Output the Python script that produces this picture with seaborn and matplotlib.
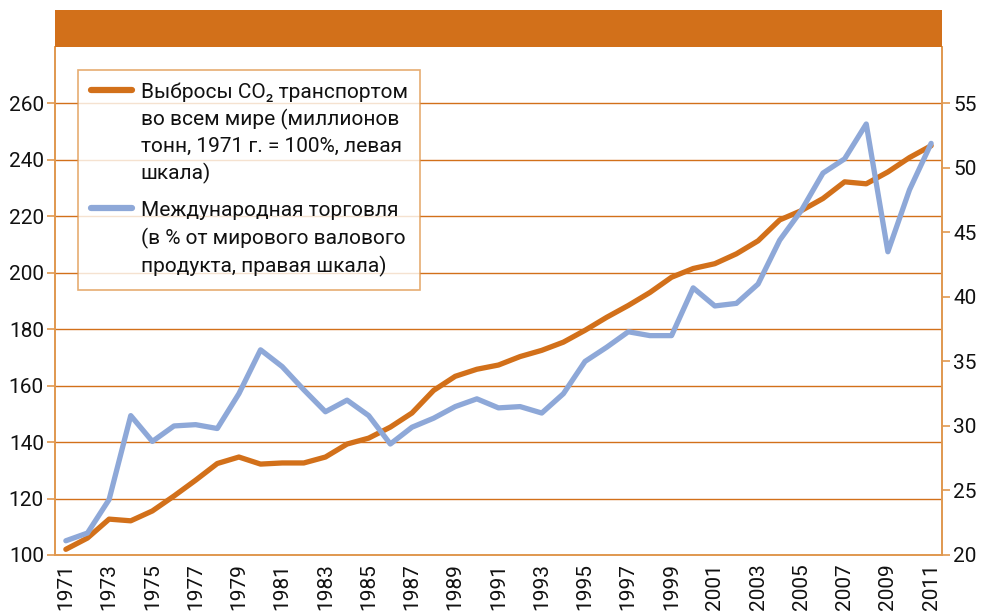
import numpy as np
import pandas as pd
import matplotlib
matplotlib.use("Agg")
import matplotlib.pyplot as plt
from matplotlib.patches import Rectangle
from matplotlib.lines import Line2D
import seaborn as sns

# Data
years = list(range(1971, 2012))
co2_transport = [102.0, 106.0, 112.7, 112.1, 115.6, 120.9, 126.5, 132.4, 134.7, 132.2,
                 132.6, 132.6, 134.7, 139.3, 141.4, 145.3, 150.3, 158.3, 163.3, 165.8,
                 167.3, 170.3, 172.5, 175.4, 179.6, 184.2, 188.4, 193.0, 198.4, 201.5,
                 203.2, 206.7, 211.3, 218.7, 222.0, 226.3, 232.2, 231.5, 235.7, 240.8,
                 245.0]
world_trade = [21.1, 21.7, 24.3, 30.8, 28.8, 30.0, 30.1, 29.8, 32.5, 35.9,
               34.6, 32.8, 31.1, 32.0, 30.8, 28.6, 29.9, 30.6, 31.5, 32.1,
               31.4, 31.5, 31.0, 32.5, 35.0, 36.1, 37.3, 37.0, 37.0, 40.7,
               39.3, 39.5, 41.0, 44.4, 46.7, 49.6, 50.7, 53.4, 43.5, 48.3,
               51.9]
left_ticks = [100, 120, 140, 160, 180, 200, 220, 240, 260]
right_ticks = [20, 25, 30, 35, 40, 45, 50, 55]
label_co2 = "Выбросы CO₂ транспортом\nво всем мире (миллионов\nтонн, 1971 г. = 100%, левая\nшкала)"
label_trade = "Международная торговля\n(в % от мирового валового\nпродукта, правая шкала)"

df = pd.DataFrame({"year": years, "co2": co2_transport, "trade": world_trade})

sns.set_style("white")
plt.rcParams['font.family'] = ['Roboto', 'DejaVu Sans']

ORANGE = "#D2701A"
BLUE = "#8EA8D8"
SPINE = "#E0984F"

fig = plt.figure(figsize=(9.81, 6.11), dpi=100)
ax = fig.add_axes([0.0561, 0.0917, 0.9041, 0.8315])
ax2 = ax.twinx()

sns.lineplot(data=df, x="year", y="co2", ax=ax, color=ORANGE, linewidth=3.8)
sns.lineplot(data=df, x="year", y="trade", ax=ax2, color=BLUE, linewidth=3.8)

ax.set_xlim(1970.5, 2011.5)
ax.set_ylim(100, 280)
ax2.set_ylim(20, 20 + 180 * 35 / 160)

ax.set_yticks(left_ticks)
ax2.set_yticks(right_ticks)
ax.set_xticks(years[::2])
ax.set_xticklabels([str(y) for y in years[::2]], rotation=90)
ax.set_xticks(np.arange(1970.5, 2012, 1), minor=True)

ax.grid(axis="y", color=ORANGE, linewidth=1.0)
ax.set_axisbelow(True)

for a in (ax, ax2):
    a.set_xlabel("")
    a.set_ylabel("")
    a.spines["top"].set_visible(False)
    for s in ("left", "right", "bottom"):
        a.spines[s].set_color(SPINE)
        a.spines[s].set_linewidth(1.2)

ax.tick_params(axis="x", which="major", length=0, pad=6, labelsize=15, labelcolor="#111111")
ax.tick_params(axis="x", which="minor", length=6, width=1.2, color=SPINE, direction="out")
ax.tick_params(axis="y", length=6, width=1.2, color=SPINE, direction="out", labelsize=15,
               pad=2, labelcolor="#111111")
ax2.tick_params(axis="y", length=6, width=1.2, color=SPINE, direction="out", labelsize=15,
                pad=2, labelcolor="#111111")

# orange header band above the plot area
fig.patches.append(Rectangle((0.0561, 0.923), 0.9041, 0.0606, transform=fig.transFigure,
                             facecolor=ORANGE, edgecolor="none"))

handles = [Line2D([], [], color=ORANGE, linewidth=4.5),
           Line2D([], [], color=BLUE, linewidth=4.5)]
leg = ax2.legend(handles, [label_co2, label_trade], loc="upper left",
                 bbox_to_anchor=(0.026, 0.955), borderaxespad=0, fontsize=15,
                 frameon=True, fancybox=False, handlelength=2.0, handletextpad=0.4,
                 labelspacing=0.8, borderpad=0.6)
leg.get_frame().set_edgecolor(SPINE)
leg.get_frame().set_linewidth(1.2)
for t in leg.get_texts():
    t.set_linespacing(1.45)
    t.set_color("#111111")
# put each legend line next to the first text line
for col in leg._legend_handle_box.get_children():
    for row in col.get_children():
        row.align = "top"

fig.savefig("out.png", dpi=100)
